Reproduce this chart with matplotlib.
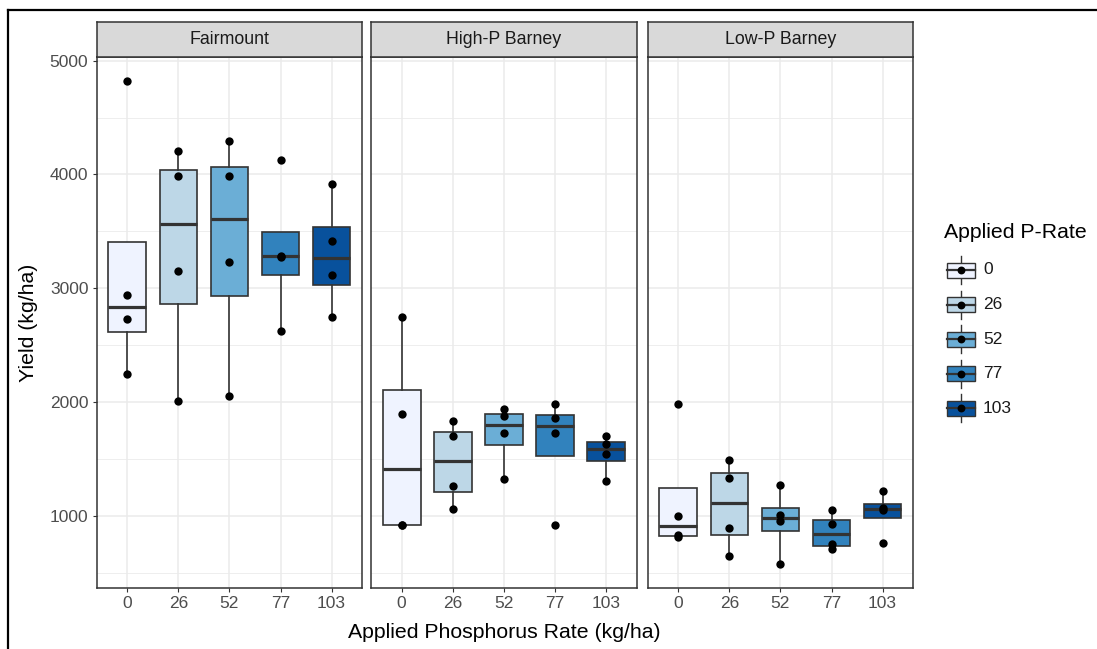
import numpy as np
import matplotlib
matplotlib.use("Agg")
import matplotlib.pyplot as plt
from matplotlib.patches import Rectangle
from matplotlib.lines import Line2D

plt.rcParams['font.family'] = ['Liberation Sans', 'DejaVu Sans']

# ---- data (kg/ha) ----
sites = ["Fairmount", "High-P Barney", "Low-P Barney"]
rates = ["0", "26", "52", "77", "103"]
colors = ["#EFF3FF", "#BDD7E7", "#6BAED6", "#3182BD", "#08519C"]

fairmount = [[4820, 2940, 2735, 2250],
             [4204, 3984, 3150, 2012],
             [4298, 3984, 3230, 2053],
             [4128, 3285, 3278, 2629],
             [3920, 3412, 3121, 2746]]
high_p = [[2746, 1900, 925, 920],
          [1834, 1702, 1261, 1059],
          [1942, 1880, 1728, 1323],
          [1980, 1857, 1728, 921],
          [1704, 1637, 1546, 1308]]
low_p = [[1988, 1000, 830, 820],
         [1493, 1337, 894, 645],
         [1273, 1005, 960, 580],
         [1050, 932, 751, 707],
         [1220, 1070, 1055, 762]]
site_data = [fairmount, high_p, low_p]

y_ticks = [1000, 2000, 3000, 4000, 5000]
y_minor = [500, 1500, 2500, 3500, 4500]

W, H = 1097, 649
fig = plt.figure(figsize=(W / 100, H / 100), dpi=100)


def px_axes(x0, y0, x1, y1, **kw):
    return fig.add_axes([x0 / W, 1 - y1 / H, (x1 - x0) / W, (y1 - y0) / H], **kw)


grey20 = "#333333"
allv = np.concatenate([np.ravel(d) for d in site_data])
lo, hi = allv.min(), allv.max()
pad = 0.05 * (hi - lo)
ylim = (lo - pad, hi + pad)

panel_left = [96.7, 371, 647.7]
panel_w = 265.5
top, bottom, strip_top = 57, 588, 22

for i, (site, data) in enumerate(zip(sites, site_data)):
    x0 = panel_left[i]
    ax = px_axes(x0, top, x0 + panel_w, bottom)
    pos = np.arange(len(rates))
    for yv in y_minor:
        ax.axhline(yv, color="#EBEBEB", lw=0.6, zorder=0)
    for yv in y_ticks:
        ax.axhline(yv, color="#EBEBEB", lw=1.1, zorder=0)
    for xv in pos:
        ax.axvline(xv, color="#EBEBEB", lw=1.1, zorder=0)

    bp = ax.boxplot(data, positions=pos, widths=0.74, patch_artist=True,
                    showfliers=False, showcaps=False, whis=1.5, zorder=2,
                    medianprops=dict(color=grey20, lw=2.3),
                    whiskerprops=dict(color=grey20, lw=1.2),
                    boxprops=dict(edgecolor=grey20, lw=1.2))
    for patch, c in zip(bp["boxes"], colors):
        patch.set_facecolor(c)
    for j, vals in enumerate(data):
        ax.scatter([pos[j]] * len(vals), vals, s=36, color="black", zorder=3,
                   linewidths=0)

    ax.set_xlim(-0.6, 4.6)
    ax.set_ylim(*ylim)
    ax.set_xticks(pos)
    ax.set_xticklabels(rates)
    ax.tick_params(axis="x", length=3, width=0.8, color=grey20, pad=3,
                   labelsize=12.5, labelcolor="#4D4D4D")
    if i == 0:
        ax.set_yticks(y_ticks)
        ax.tick_params(axis="y", length=3, width=0.8, color=grey20, pad=3,
                       labelsize=12.5, labelcolor="#4D4D4D")
    else:
        ax.set_yticks([])
    for sp in ax.spines.values():
        sp.set_color(grey20)
        sp.set_linewidth(1.1)

    sax = px_axes(x0, strip_top, x0 + panel_w, top)
    sax.set_facecolor("#D9D9D9")
    sax.set_xticks([]); sax.set_yticks([])
    for sp in sax.spines.values():
        sp.set_color(grey20)
        sp.set_linewidth(1.1)
    sax.text(0.5, 0.5, site, ha="center", va="center", fontsize=12.8,
             color="#1A1A1A", transform=sax.transAxes)

fig.text(504 / W, 1 - 632 / H, "Applied Phosphorus Rate (kg/ha)", ha="center",
         va="center", fontsize=15.3)
fig.text(29 / W, 1 - 322.5 / H, "Yield (kg/ha)", ha="center", va="center",
         rotation=90, fontsize=15.3)

# ---- legend ----
fig.text(944 / W, 1 - 232 / H, "Applied P-Rate", ha="left", va="center",
         fontsize=15.3)
lax = px_axes(940, 250, 1090, 428)
lax.set_xlim(940, 1090)
lax.set_ylim(428, 250)
lax.axis("off")
for k, (r, c) in enumerate(zip(rates, colors)):
    cy = 270 + k * 34.6
    lax.add_line(Line2D([961, 961], [cy - 14, cy + 14], color=grey20, lw=1.0))
    lax.add_patch(Rectangle((947, cy - 7.5), 28, 15, facecolor=c,
                            edgecolor=grey20, lw=1.0, zorder=2))
    lax.add_line(Line2D([947, 975], [cy, cy], color=grey20, lw=1.6, zorder=3))
    lax.scatter([961], [cy], s=32, color="black", zorder=4, linewidths=0)
    lax.text(983, cy, r, ha="left", va="center", fontsize=12.5, color="#1A1A1A")

# ---- outer frame lines (top and left) ----
fig.add_artist(Line2D([8 / W, 1], [1 - 10 / H, 1 - 10 / H], color="black", lw=1.6))
fig.add_artist(Line2D([8 / W, 8 / W], [0, 1 - 10 / H], color="black", lw=1.6))

fig.savefig("out.png", dpi=100)
